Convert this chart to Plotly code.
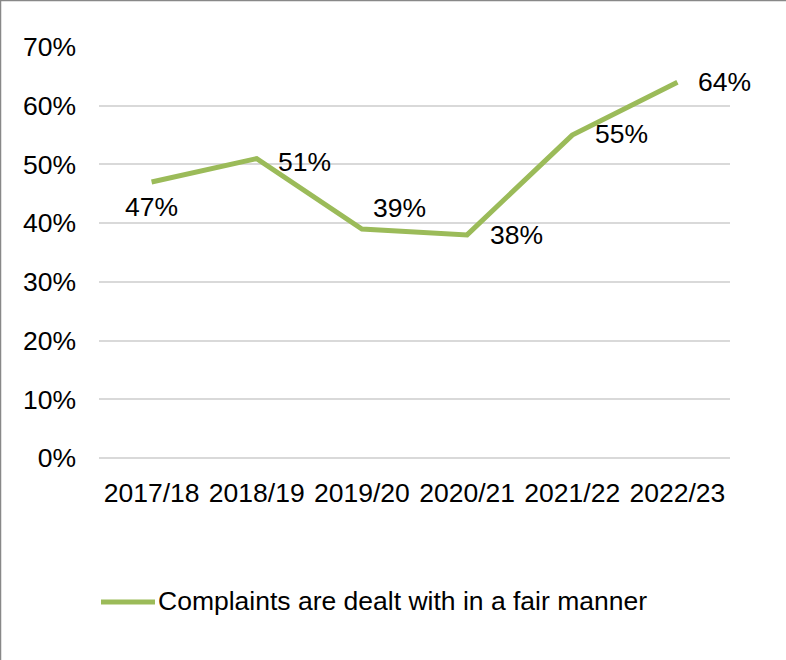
import plotly.graph_objects as go

# Survey results by financial year
years = ["2017/18", "2018/19", "2019/20", "2020/21", "2021/22", "2022/23"]
fair_manner = [47, 51, 39, 38, 55, 64]
series_name = "Complaints are dealt with in a fair manner"
y_ticks = [0, 10, 20, 30, 40, 50, 60, 70]
y_tick_labels = [f"{t}%" for t in y_ticks]

W, H = 786, 660
L, R, T, B = 99, 56, 47, 202
PW, PH = W - L - R, H - T - B

GREEN = "#9BBB59"
FONT = "Liberation Sans, Arial, sans-serif"
FS = 26.5


def px_x(p):
    return (p - L) / PW


def px_y(p):
    return (T + PH - p) / PH


fig = go.Figure()
fig.add_trace(go.Scatter(
    x=years, y=fair_manner, mode="lines", name=series_name,
    line=dict(color=GREEN, width=5), showlegend=False,
))

# data label placement (pixel offsets from each point)
offsets = [(0, -25), (48, -3), (38, 21), (49, 0), (49, 1), (47, 0)]
for yr, v, (dx, dy) in zip(years, fair_manner, offsets):
    fig.add_annotation(x=yr, y=v, text=f"{v}%", showarrow=False,
                       xshift=dx, yshift=dy,
                       font=dict(size=FS, color="#000000", family=FONT))

# legend: swatch line plus series name below the plot
fig.add_shape(type="line", xref="paper", yref="paper",
              x0=px_x(101), x1=px_x(155), y0=px_y(602), y1=px_y(602),
              line=dict(color=GREEN, width=5))
fig.add_annotation(xref="paper", yref="paper", x=px_x(156), y=px_y(601),
                   xanchor="left", yanchor="middle", showarrow=False,
                   text=series_name,
                   font=dict(size=FS, color="#000000", family=FONT))

# outer chart border
fig.add_shape(type="rect", xref="paper", yref="paper",
              x0=px_x(0.5), x1=px_x(W + 20),
              y0=px_y(H + 20), y1=px_y(0.5),
              line=dict(color="#888888", width=1.5), fillcolor="rgba(0,0,0,0)",
              layer="above")

fig.update_layout(
    width=W, height=H,
    margin=dict(l=L, r=R, t=T, b=B),
    paper_bgcolor="white", plot_bgcolor="white",
    font=dict(family=FONT, size=FS, color="#000000"),
    showlegend=False,
    xaxis=dict(type="category", range=[-0.5, 5.5], showgrid=False,
               showline=False, zeroline=False, ticks="",
               ticklabelstandoff=16, tickfont=dict(size=FS)),
    yaxis=dict(range=[0, 70], tickmode="array", tickvals=y_ticks,
               ticktext=y_tick_labels,
               showgrid=True, gridcolor="#D9D9D9", gridwidth=1.5,
               zeroline=True, zerolinecolor="#D9D9D9", zerolinewidth=1.5,
               showline=False, ticks="",
               ticklabelstandoff=22, tickfont=dict(size=FS)),
)

fig.write_html("out.html")
